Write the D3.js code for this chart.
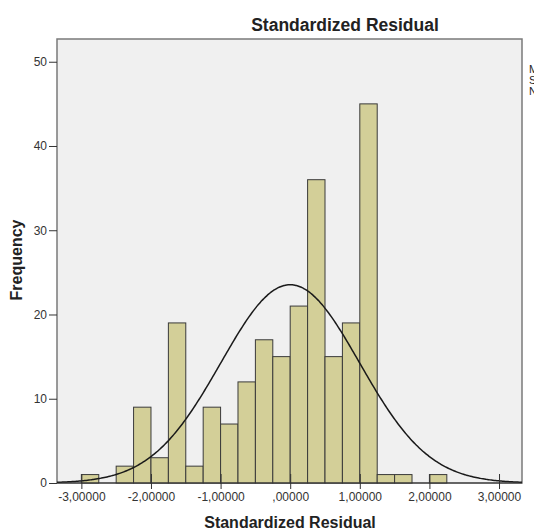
<!DOCTYPE html>
<html>
<head>
<meta charset="utf-8">
<script src="https://cdn.jsdelivr.net/npm/d3@7"></script>
<style>
  body { margin: 0; background: #fff; }
  svg { display: block; font-family: "Liberation Sans", Arial, sans-serif; }
</style>
</head>
<body>
<svg id="chart" width="534" height="529"></svg>
<script>
// histogram bins (lower edge) and counts
const binStarts = [-3, -2.75, -2.5, -2.25, -2, -1.75, -1.5, -1.25, -1, -0.75, -0.5,
                   -0.25, 0, 0.25, 0.5, 0.75, 1, 1.25, 1.5, 1.75, 2];
const counts = [1, 0, 2, 9, 3, 19, 2, 9, 7, 12, 17, 15, 21, 36, 15, 19, 45, 1, 1, 0, 1];
const binWidth = 0.25;
const xTicks = [-3, -2, -1, 0, 1, 2, 3];
const xTickLabels = ["-3,00000", "-2,00000", "-1,00000", ",00000", "1,00000", "2,00000", "3,00000"];
const yTicks = [0, 10, 20, 30, 40, 50];
const legendLines = ["Mean = -2,15E-16", "Std. Dev. = 0,996", "N = 235"];
const fitMean = 0, fitSd = 0.996, fitN = 235;

const svg = d3.select("#chart");
const pLeft = 57, pRight = 522, pTop = 39, pBottom = 483;

const x = d3.scaleLinear().domain([-3.35, 3.33]).range([pLeft, pRight]);
const y = d3.scaleLinear().domain([0, 52.7]).range([pBottom, pTop]);

// plot background / frame
svg.append("rect")
  .attr("x", pLeft).attr("y", pTop)
  .attr("width", pRight - pLeft).attr("height", pBottom - pTop)
  .attr("fill", "#f0f0f0")
  .attr("stroke", "#7a7a7a").attr("stroke-width", 1.5);

svg.append("clipPath").attr("id", "plotclip")
  .append("rect").attr("x", pLeft).attr("y", pTop)
  .attr("width", pRight - pLeft).attr("height", pBottom - pTop);

// bars
const bars = binStarts.map((s, i) => ({ x0: s, x1: s + binWidth, n: counts[i] }))
  .filter(d => d.n > 0);
svg.append("g").selectAll("rect").data(bars).enter().append("rect")
  .attr("x", d => x(d.x0))
  .attr("y", d => y(d.n))
  .attr("width", d => x(d.x1) - x(d.x0))
  .attr("height", d => y(0) - y(d.n))
  .attr("fill", "#d3cf98")
  .attr("stroke", "#3a3a3a").attr("stroke-width", 1);

// fitted normal curve
const pdf = v => Math.exp(-0.5 * ((v - fitMean) / fitSd) ** 2) / (fitSd * Math.sqrt(2 * Math.PI));
const curvePts = d3.range(-3.35, 3.34, 0.02).map(v => [v, fitN * binWidth * pdf(v)]);
svg.append("path")
  .datum(curvePts)
  .attr("clip-path", "url(#plotclip)")
  .attr("fill", "none")
  .attr("stroke", "#1a1a1a").attr("stroke-width", 1.5)
  .attr("d", d3.line().x(d => x(d[0])).y(d => y(d[1])).curve(d3.curveBasis));

// baseline
svg.append("line")
  .attr("x1", pLeft).attr("x2", pRight).attr("y1", pBottom).attr("y2", pBottom)
  .attr("stroke", "#333").attr("stroke-width", 1.2);

// y axis
const yAxis = d3.axisLeft(y).tickValues(yTicks).tickSize(8).tickPadding(2);
const gy = svg.append("g").attr("transform", `translate(${pLeft},0)`).call(yAxis);
gy.select(".domain").remove();
gy.selectAll(".tick line").attr("stroke", "#333");
gy.selectAll(".tick text").attr("font-size", 12).attr("fill", "#333")
  .attr("font-family", "'Liberation Sans', Arial, sans-serif");

// x axis
const xAxis = d3.axisBottom(x).tickValues(xTicks).tickSize(7).tickPadding(3)
  .tickFormat((d, i) => xTickLabels[i]);
const gx = svg.append("g").attr("transform", `translate(0,${pBottom - 1})`).call(xAxis);
gx.select(".domain").remove();
gx.selectAll(".tick line").attr("stroke", "#333").attr("y1", -8);
gx.selectAll(".tick text").attr("font-size", 12).attr("fill", "#333")
  .attr("font-family", "'Liberation Sans', Arial, sans-serif");

// titles
svg.append("text")
  .attr("x", 345).attr("y", 31)
  .attr("text-anchor", "middle")
  .attr("font-size", 17.5).attr("font-weight", "bold").attr("fill", "#222")
  .text("Standardized Residual");

svg.append("text")
  .attr("x", 290).attr("y", 528)
  .attr("text-anchor", "middle")
  .attr("font-size", 16).attr("font-weight", "bold").attr("fill", "#222")
  .text("Standardized Residual");

svg.append("text")
  .attr("transform", "translate(22,260) rotate(-90)")
  .attr("text-anchor", "middle")
  .attr("font-size", 16).attr("font-weight", "bold").attr("fill", "#222")
  .text("Frequency");

// legend (cut off at the right edge)
svg.append("g").selectAll("text").data(legendLines).enter().append("text")
  .attr("x", 529).attr("y", (d, i) => 73 + i * 11)
  .attr("font-size", 11).attr("fill", "#222")
  .text(d => d);
</script>
</body>
</html>
